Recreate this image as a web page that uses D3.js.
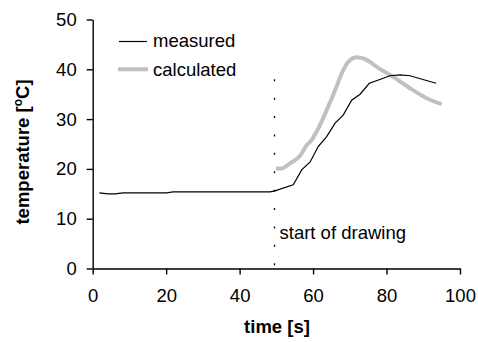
<!DOCTYPE html>
<html>
<head>
<meta charset="utf-8">
<script src="https://cdn.jsdelivr.net/npm/d3@7"></script>
<style>
  body { margin: 0; background: #fff; }
  text { font-family: "Liberation Sans", Arial, sans-serif; }
</style>
</head>
<body>
<svg width="478" height="342"></svg>
<script>
// measured temperature
var measuredTime = [1.8, 4.2, 6.1, 8.3, 20.1, 21.9, 48.3, 49.6, 54.6, 56.9, 59.2, 61.4, 63.7, 66.0, 68.2, 70.5, 72.8, 75.3, 78.0, 80.9, 83.7, 86.4, 89.2, 93.5];
var measuredTemp = [15.2, 15.0, 15.0, 15.2, 15.2, 15.4, 15.4, 15.6, 16.8, 19.8, 21.4, 24.5, 26.5, 29.2, 30.8, 33.8, 35.0, 37.2, 37.9, 38.7, 38.9, 38.7, 38.1, 37.2];

// calculated temperature
var calcTime = [49.9, 51.5, 53.7, 56.4, 58.3, 59.6, 61.4, 63.7, 66.0, 67.8, 69.6, 71.9, 74.6, 77.5, 81.8, 86.4, 90.9, 95.0];
var calcTemp = [20.1, 20.1, 21.1, 22.6, 24.8, 25.8, 28.1, 31.8, 35.8, 39.2, 41.5, 42.4, 41.9, 40.4, 38.5, 36.2, 34.2, 33.0];

var xTicks = [0, 20, 40, 60, 80, 100];
var yTicks = [0, 10, 20, 30, 40, 50];
var drawStart = 49.5;
var drawStartTop = 38;

var fs = 18.5;
var svg = d3.select("svg");
var x = d3.scaleLinear().domain([0, 100]).range([92.7, 460]);
var y = d3.scaleLinear().domain([0, 50]).range([268.5, 19.5]);

var xAxis = svg.append("g")
    .attr("transform", "translate(0," + y(0) + ")")
    .call(d3.axisBottom(x).tickValues(xTicks).tickSize(6).tickPadding(14).tickSizeOuter(0));
var yAxis = svg.append("g")
    .attr("transform", "translate(" + x(0) + ",0)")
    .call(d3.axisLeft(y).tickValues(yTicks).tickSize(6).tickPadding(10).tickSizeOuter(0));

[xAxis, yAxis].forEach(function(g) {
    g.selectAll("path, line").attr("stroke", "#000").attr("stroke-width", 1.4);
    g.selectAll("text").attr("font-size", fs).attr("fill", "#000")
        .style("font-family", "'Liberation Sans', Arial, sans-serif");
});
xAxis.selectAll("text").attr("dy", "0.71em");

// dashed "start of drawing" marker
svg.append("line")
    .attr("x1", x(drawStart)).attr("x2", x(drawStart))
    .attr("y1", y(drawStartTop)).attr("y2", y(0))
    .attr("stroke", "#000")
    .attr("stroke-width", 1.3)
    .attr("stroke-dasharray", "2,16.4");

svg.append("text")
    .attr("x", x(drawStart) + 5)
    .attr("y", 239)
    .attr("font-size", fs)
    .text("start of drawing");

var line = d3.line()
    .x(function(d) { return x(d[0]); })
    .y(function(d) { return y(d[1]); });

svg.append("path")
    .datum(d3.zip(calcTime, calcTemp))
    .attr("d", line.curve(d3.curveMonotoneX))
    .attr("fill", "none")
    .attr("stroke", "#c0c0c0")
    .attr("stroke-width", 4)
    .attr("stroke-linejoin", "round");

svg.append("path")
    .datum(d3.zip(measuredTime, measuredTemp))
    .attr("d", line.curve(d3.curveLinear))
    .attr("fill", "none")
    .attr("stroke", "#000")
    .attr("stroke-width", 1.2);

// legend
var legend = svg.append("g");
legend.append("line")
    .attr("x1", 119).attr("x2", 147).attr("y1", 41.5).attr("y2", 41.5)
    .attr("stroke", "#000").attr("stroke-width", 1.2);
legend.append("text").attr("x", 153).attr("y", 47).attr("font-size", fs).text("measured");
legend.append("line")
    .attr("x1", 118).attr("x2", 148).attr("y1", 69.3).attr("y2", 69.3)
    .attr("stroke", "#c0c0c0").attr("stroke-width", 4);
legend.append("text").attr("x", 153).attr("y", 76).attr("font-size", fs).text("calculated");

// axis titles
svg.append("text")
    .attr("x", 277)
    .attr("y", 333)
    .attr("text-anchor", "middle")
    .attr("font-size", fs)
    .attr("font-weight", "bold")
    .text("time [s]");

var yt = svg.append("text")
    .attr("transform", "translate(29,152) rotate(-90)")
    .attr("text-anchor", "middle")
    .attr("font-size", fs)
    .attr("font-weight", "bold");
yt.append("tspan").text("temperature [");
yt.append("tspan").attr("font-size", 12).attr("dy", -7).text("o");
yt.append("tspan").attr("dy", 7).text("C]");
</script>
</body>
</html>
